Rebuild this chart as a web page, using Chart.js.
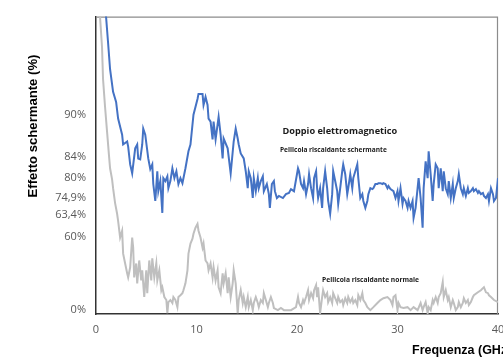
<!DOCTYPE html>
<html>
<head>
<meta charset="utf-8">
<script src="https://cdn.jsdelivr.net/npm/chart.js@4/dist/chart.umd.min.js"></script>
<style>
  html, body { margin: 0; padding: 0; background: #ffffff; }
  #wrap { width: 503px; height: 358px; }
</style>
</head>
<body>
<div id="wrap"><canvas id="c" width="503" height="358"></canvas></div>
<script>
// ---- Data (frequency in GHz, level on the chart's internal 0-100 scale) ----
const freqTicks = [0, 10, 20, 30, 40];
const yTickLevels = [1.3, 25.8, 33.3, 38.9, 45.8, 52.7, 66.9];
const yTickLabels = ['0%', '60%', '63,4%', '74,9%', '80%', '84%', '90%'];

const seriesNames = ['Pellicola riscaldante schermante', 'Pellicola riscaldante normale'];

// Shielding heating film ("Doppio elettromagnetico") - blue
const shieldingFilm = [
 [0.8,106.7],[1.0,100],[1.2,91.3],[1.4,82.3],[1.7,74.7],[2.0,71.3],[2.2,65.7],[2.6,60.3],[2.7,57],[3.1,58],
 [3.2,56.3],[3.4,50.3],[3.6,47.3],[3.9,55.7],[4.1,57],[4.2,52.3],[4.4,52],[4.6,57],[4.7,62.3],[4.9,60.3],
 [5.2,52.3],[5.4,48.7],[5.6,50.3],[5.7,43.7],[5.9,38],[6.1,48],[6.2,41.3],[6.4,44.7],[6.6,34],[6.7,45.7],
 [6.9,44.7],[7.1,46.3],[7.2,42.3],[7.4,44.7],[7.6,49],[7.8,45.7],[8.0,48],[8.2,43.7],[8.4,45.7],[8.6,44],
 [8.9,49],[9.2,54.7],[9.4,57],[9.7,67],[10.1,72.3],[10.2,74],[10.6,74],[10.7,70.3],[10.9,73],[11.1,70.3],
 [11.2,65.7],[11.4,64.7],[11.6,58.7],[11.7,64.7],[11.9,58.7],[12.2,66.3],[12.4,60.3],[12.6,52.3],[12.7,59],[13.1,55.7],
 [13.4,47.3],[13.7,58],[13.9,62.3],[14.1,59],[14.2,57],[14.4,54],[14.7,52.3],[14.9,48],[15.1,42.3],[15.2,48],
 [15.4,45.7],[15.6,39],[15.7,45.7],[15.9,41.3],[16.1,45.7],[16.2,42.3],[16.4,44.7],[16.6,46.3],[16.7,41.3],[17.0,43.7],
 [17.2,40.3],[17.3,35.7],[17.5,43.7],[17.7,44.7],[17.8,41.3],[18.0,39],[18.2,39.7],[18.6,39],[18.9,40.3],[19.2,40.7],
 [19.4,42],[19.7,41.3],[20.1,49],[20.2,48],[20.4,43.7],[20.6,42.3],[20.7,44.7],[20.9,40.3],[21.1,43.7],[21.2,47],
 [21.4,42.3],[21.6,39],[21.7,45.7],[21.9,48],[22.0,42.3],[22.1,39],[22.3,42.3],[22.5,35.7],[22.6,42.3],[22.8,48],
 [23.0,42.3],[23.1,38],[23.3,33.7],[23.5,40.3],[23.6,48],[23.8,44.7],[24.0,41.3],[24.1,37],[24.3,42.3],[24.5,48],
 [24.6,50.3],[24.8,47],[25.0,40.3],[25.1,42.3],[25.3,47],[25.5,42.3],[25.6,45.7],[25.8,48],[26.0,50.3],[26.1,45.7],
 [26.3,39],[26.5,40.3],[26.6,38],[26.8,35.7],[27.0,38],[27.1,40.3],[27.3,42.3],[27.5,42],[27.6,42.3],[27.8,43.7],
 [28.0,43.7],[28.1,44],[28.3,44],[28.5,43.7],[28.6,44],[28.8,43.7],[29.0,42.3],[29.1,43],[29.3,42],[29.6,41.3],
 [29.8,39],[30.0,41.3],[30.1,38],[30.3,42.3],[30.5,37],[30.6,39],[30.8,38],[31.0,35.7],[31.1,38],[31.3,35.7],
 [31.5,38],[31.6,32.3],[31.8,35.7],[32.0,42.3],[32.1,45.7],[32.3,39],[32.5,29],[32.6,42.3],[32.8,51.3],[33.0,45.7],
 [33.1,54.7],[33.3,47],[33.5,38],[33.6,43.7],[33.8,50.3],[34.0,49],[34.1,42.3],[34.3,49],[34.5,41.3],[34.6,48],
 [34.8,42.3],[35.0,40.3],[35.1,44.7],[35.3,39],[35.5,43.7],[35.6,39],[35.8,42.3],[36.0,44.7],[36.1,47],[36.3,42.3],
 [36.5,40.3],[36.6,42.3],[36.8,39.7],[37.0,42.3],[37.1,40.7],[37.3,41.3],[37.5,42.3],[37.6,41.3],[37.8,42],[38.0,40.7],
 [38.1,41.3],[38.3,40.3],[38.5,40.7],[38.6,39.7],[38.8,39],[39.0,40.3],[39.1,38],[39.3,42.3],[39.5,40.3],[39.6,38],
 [39.8,39],[40.0,45.7]
];

// Normal heating film - grey
const normalFilm = [
 [0.3,108],[0.4,100],[0.6,89.7],[0.7,79],[0.9,69.7],[1.1,61.3],[1.3,53],[1.4,49],[1.6,45.3],[1.7,42.3],
 [1.9,37.3],[2.1,33.7],[2.2,31.3],[2.4,25.7],[2.6,28],[2.7,20.3],[2.9,17],[3.1,13.7],[3.2,12.3],[3.4,15.7],
 [3.6,25.7],[3.7,22.3],[3.8,12.3],[4.0,17],[4.1,10.3],[4.3,18],[4.5,11.3],[4.6,14.7],[4.8,5.7],[5.0,14.7],
 [5.1,7],[5.3,18],[5.5,11.3],[5.6,18.7],[5.8,12.3],[6.0,17],[6.1,11.3],[6.3,14.7],[6.5,8],[6.6,9],
 [6.8,5.7],[7.0,4.7],[7.1,0.3],[7.2,4],[7.4,4.7],[7.6,3.7],[7.7,5.7],[7.9,4.7],[8.1,2.3],[8.2,5.7],
 [8.4,6.3],[8.6,7],[8.7,8],[8.9,10.3],[9.1,14.7],[9.2,20.3],[9.4,23.7],[9.6,25.3],[9.7,27],[9.9,29],
 [10.1,30.3],[10.2,28],[10.4,25.7],[10.6,22.3],[10.7,23.7],[10.9,18],[11.1,17],[11.2,14.7],[11.4,17],[11.6,12.3],
 [11.7,15.7],[11.9,11.3],[12.1,14.7],[12.2,9],[12.4,7],[12.6,13.7],[12.7,10.3],[12.9,13.7],[13.1,7],[13.2,12.3],
 [13.4,5.7],[13.6,10.3],[13.7,14.7],[13.9,10.3],[14.1,0.3],[14.2,4.7],[14.4,8],[14.6,3.7],[14.7,5.7],[14.9,2.3],
 [15.1,5.7],[15.2,2.3],[15.4,4.7],[15.6,1.3],[15.7,3.7],[15.9,5.7],[16.1,3.7],[16.2,2.3],[16.4,4.7],[16.6,3.7],
 [16.7,7],[16.9,4.7],[17.1,2.3],[17.2,3.7],[17.4,5.7],[17.6,3.7],[17.7,2],[18.1,1.3],[18.4,2],[18.7,1.3],
 [19.1,1.3],[19.4,1.3],[19.9,2.3],[20.1,5.7],[20.2,3.7],[20.4,2.3],[20.6,4.7],[20.7,3.7],[20.9,5.7],[21.1,8],
 [21.2,4.7],[21.4,7],[21.6,5.3],[21.7,8],[21.9,9.7],[22.0,5.7],[22.1,9],[22.3,0.3],[22.5,5.7],[22.6,8],
 [22.8,5.7],[23.0,7],[23.1,4],[23.3,5.7],[23.5,3.7],[23.6,7],[23.8,5.3],[24.0,3.7],[24.1,5.7],[24.3,4],
 [24.5,4.7],[24.6,3],[24.8,5.3],[25.0,3.7],[25.1,5.7],[25.3,4],[25.5,5.3],[25.6,3.7],[25.8,4.7],[26.0,3],
 [26.1,6.3],[26.3,4.7],[26.5,7],[26.6,4.7],[26.8,3.7],[27.0,2.3],[27.3,1.3],[27.6,2.3],[28.0,3.7],[28.3,4.7],
 [28.6,5.3],[29.0,5.7],[29.3,4.7],[29.5,3],[29.6,5.7],[29.8,6.3],[30.0,1.3],[30.1,3.7],[30.3,2.3],[30.6,2],
 [31.0,2.3],[31.3,1.3],[31.6,2.3],[32.0,1.3],[32.3,3.7],[32.5,1.3],[32.6,2.3],[32.8,4],[33.0,0.3],[33.1,2.3],
 [33.3,1.3],[33.5,4.7],[33.6,3.7],[33.8,5.7],[34.0,3.7],[34.1,5.7],[34.3,7],[34.5,10.7],[34.6,5.7],[34.8,8],
 [35.0,4.7],[35.1,5.7],[35.3,2.3],[35.5,4.7],[35.6,3.7],[35.8,1.3],[36.0,2.3],[36.1,4],[36.3,2.3],[36.5,3.7],
 [36.6,5.3],[36.8,3.7],[37.0,4.7],[37.1,3],[37.3,4],[37.5,5.7],[37.6,6.3],[38.0,7.3],[38.3,8],[38.5,8.7],
 [38.6,9],[38.8,7.3],[39.0,7],[39.1,6.3],[39.3,5.7],[39.6,4.7],[40.0,4]
];

const toPoints = arr => arr.map(p => ({ x: p[0], y: p[1] }));

function fitFont(ctx, text, width, weight, family) {
  ctx.font = weight + ' 20px ' + family;
  const w = ctx.measureText(text).width;
  const size = 20 * width / w;
  return weight + ' ' + size.toFixed(2) + 'px ' + family;
}

const decorPlugin = {
  id: 'decor',
  beforeDatasetsDraw(chart) {
    const { ctx, chartArea: a } = chart;
    ctx.save();
    ctx.strokeStyle = '#8c8c8c';
    ctx.lineWidth = 1.2;
    ctx.beginPath();
    ctx.moveTo(a.left, a.top + 0.5);
    ctx.lineTo(a.right - 0.5, a.top + 0.5);
    ctx.lineTo(a.right - 0.5, a.bottom);
    ctx.stroke();
    ctx.restore();
  },
  afterDraw(chart) {
    const { ctx } = chart;
    ctx.save();
    ctx.fillStyle = '#000000';
    ctx.textBaseline = 'middle';
    // Y axis title
    ctx.save();
    ctx.translate(33, 126);
    ctx.rotate(-Math.PI / 2);
    ctx.textAlign = 'center';
    ctx.font = fitFont(ctx, 'Effetto schermante (%)', 143, 'bold', '"Liberation Sans", Arial, sans-serif');
    ctx.fillText('Effetto schermante (%)', 0, 0);
    ctx.restore();
    // X axis title (clipped at canvas edge like the original)
    ctx.textAlign = 'left';
    ctx.font = 'bold 12.5px "Liberation Sans", Arial, sans-serif';
    ctx.fillText('Frequenza (GHz)', 412, 351);
    // Annotations
    ctx.fillStyle = '#1a1a1a';
    ctx.font = fitFont(ctx, 'Doppio elettromagnetico', 115, 'bold', '"Open Sans", sans-serif');
    ctx.fillText('Doppio elettromagnetico', 282.5, 131.5);
    ctx.font = fitFont(ctx, seriesNames[0], 107, 'bold', '"Open Sans", sans-serif');
    ctx.fillText(seriesNames[0], 280, 150);
    ctx.font = fitFont(ctx, seriesNames[1], 97, 'bold', '"Open Sans", sans-serif');
    ctx.fillText(seriesNames[1], 322, 280.5);
    ctx.restore();
  }
};

new Chart(document.getElementById('c'), {
  type: 'line',
  data: {
    datasets: [
      {
        label: seriesNames[1],
        data: toPoints(normalFilm),
        borderColor: '#BFBFBF',
        borderWidth: 2,
        pointRadius: 0,
        tension: 0,
        fill: false
      },
      {
        label: seriesNames[0],
        data: toPoints(shieldingFilm),
        borderColor: '#4472C4',
        borderWidth: 2,
        pointRadius: 0,
        tension: 0,
        fill: false
      }
    ]
  },
  options: {
    responsive: false,
    animation: false,
    events: [],
    layout: { padding: { top: 14, right: 5, left: 0, bottom: 0 } },
    plugins: { legend: { display: false }, tooltip: { enabled: false } },
    scales: {
      x: {
        type: 'linear',
        min: 0,
        max: 40,
        afterBuildTicks: s => { s.ticks = freqTicks.map(v => ({ value: v })); },
        afterFit: s => { s.height = 44; s.paddingLeft = 0; s.paddingRight = 0; },
        grid: { display: false, drawTicks: false },
        border: { display: true, color: '#333333', width: 1.5 },
        ticks: {
          padding: 9,
          color: '#595959',
          font: { family: '"Open Sans", sans-serif', size: 11 },
          maxRotation: 0,
          autoSkip: false
        }
      },
      y: {
        type: 'linear',
        min: 0,
        max: 100,
        afterBuildTicks: s => { s.ticks = yTickLevels.map(v => ({ value: v })); },
        afterFit: s => { s.width = 96; },
        grid: { display: false, drawTicks: false },
        border: { display: true, color: '#333333', width: 1.5 },
        ticks: {
          padding: 10,
          color: '#595959',
          font: { family: '"Open Sans", sans-serif', size: 11 },
          autoSkip: false,
          callback: (v, i) => yTickLabels[i]
        }
      }
    }
  },
  plugins: [decorPlugin]
});
</script>
</body>
</html>
